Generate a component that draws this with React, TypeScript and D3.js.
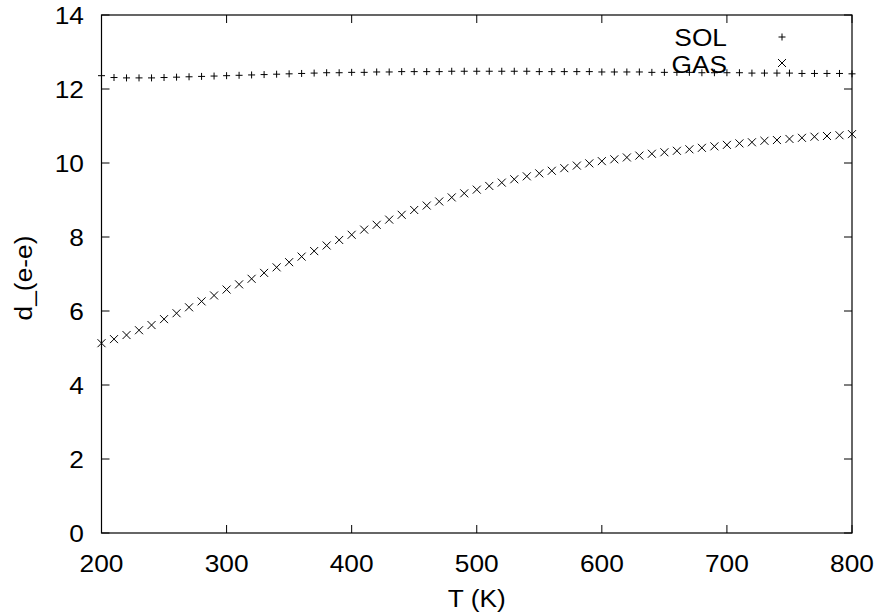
import React from "react";
import * as d3 from "d3";

const temps: number[] = d3.range(200, 801, 10);

const solValues: number[] = [
  12.36, 12.31, 12.30, 12.30, 12.30, 12.31, 12.32, 12.33, 12.34, 12.35,
  12.36, 12.37, 12.38, 12.39, 12.40, 12.41, 12.42, 12.43, 12.44, 12.44,
  12.45, 12.45, 12.46, 12.46, 12.47, 12.47, 12.47, 12.47, 12.48, 12.48,
  12.48, 12.48, 12.48, 12.48, 12.48, 12.47, 12.47, 12.47, 12.47, 12.47,
  12.46, 12.46, 12.46, 12.46, 12.45, 12.45, 12.45, 12.45, 12.44, 12.44,
  12.44, 12.44, 12.43, 12.43, 12.43, 12.43, 12.42, 12.42, 12.42, 12.42,
  12.41,
];

const gasValues: number[] = [
  5.13, 5.24, 5.35, 5.48, 5.62, 5.78, 5.94, 6.10, 6.26, 6.42,
  6.58, 6.72, 6.87, 7.03, 7.18, 7.32, 7.47, 7.62, 7.77, 7.92,
  8.06, 8.20, 8.33, 8.47, 8.60, 8.73, 8.85, 8.96, 9.07, 9.18,
  9.28, 9.38, 9.47, 9.56, 9.64, 9.72, 9.79, 9.86, 9.93, 9.99,
  10.05, 10.10, 10.15, 10.20, 10.25, 10.29, 10.33, 10.37, 10.41, 10.45,
  10.49, 10.53, 10.56, 10.60, 10.62, 10.65, 10.68, 10.71, 10.73, 10.75,
  10.78,
];

const xTicks: number[] = [200, 300, 400, 500, 600, 700, 800];
const yTicks: number[] = [0, 2, 4, 6, 8, 10, 12, 14];
const seriesNames: string[] = ["SOL", "GAS"];

const W = 877;
const H = 616;
const left = 101.5;
const right = 852;
const top = 15;
const bottom = 533;
const FONT = "'Liberation Sans', Arial, Helvetica, sans-serif";
const FS = 23.5;
const SX = 1.12;
const TL = 8;

const plusPath = (s: number) => `M${-s},0H${s}M0,${-s}V${s}`;
const crossPath = (s: number) => `M${-s},${-s}L${s},${s}M${-s},${s}L${s},${-s}`;

function T(props: { x: number; y: number; anchor?: string; rotate?: number; children: React.ReactNode }) {
  const { x, y, anchor = "middle", rotate = 0, children } = props;
  return (
    <text
      transform={`translate(${x},${y}) rotate(${rotate}) scale(${SX},1)`}
      textAnchor={anchor}
      fontFamily={FONT}
      fontSize={FS}
      fill="#000"
    >
      {children}
    </text>
  );
}

export default function App() {
  const x = d3.scaleLinear().domain([200, 800]).range([left, right]);
  const y = d3.scaleLinear().domain([0, 14]).range([bottom, top]);

  const sol = temps.map((t, i) => ({ t, v: solValues[i] }));
  const gas = temps.map((t, i) => ({ t, v: gasValues[i] }));

  return (
    <svg
      width={W}
      height={H}
      style={{ position: "absolute", left: 0, top: 0, background: "#fff" }}
    >
      <rect x={0} y={0} width={W} height={H} fill="#fff" />
      {xTicks.map((t) => (
        <g key={"xt" + t} stroke="#000" strokeWidth={1}>
          <line x1={x(t)} x2={x(t)} y1={bottom} y2={bottom - TL} />
          <line x1={x(t)} x2={x(t)} y1={top} y2={top + TL} />
        </g>
      ))}
      {yTicks.map((t) => (
        <g key={"yt" + t} stroke="#000" strokeWidth={1}>
          <line x1={left} x2={left + TL} y1={y(t)} y2={y(t)} />
          <line x1={right} x2={right - TL} y1={y(t)} y2={y(t)} />
        </g>
      ))}
      <rect
        x={left}
        y={top}
        width={right - left}
        height={bottom - top}
        fill="none"
        stroke="#000"
        strokeWidth={1.2}
      />
      {xTicks.map((t) => (
        <T key={"xl" + t} x={x(t)} y={572}>
          {t}
        </T>
      ))}
      {yTicks.map((t) => (
        <T key={"yl" + t} x={84} y={y(t) + 8.5} anchor="end">
          {t}
        </T>
      ))}
      <T x={(left + right) / 2} y={607}>T (K)</T>
      <T x={32} y={(top + bottom) / 2 + 4} rotate={-90}>d_(e-e)</T>

      <g stroke="#000" strokeWidth={1} fill="none">
        {sol.map((d) => (
          <path key={"s" + d.t} d={plusPath(3.5)} transform={`translate(${x(d.t)},${y(d.v)})`} />
        ))}
        {gas.map((d) => (
          <path key={"g" + d.t} d={crossPath(4)} transform={`translate(${x(d.t)},${y(d.v)})`} />
        ))}
      </g>

      <T x={727} y={46} anchor="end">{seriesNames[0]}</T>
      <T x={727} y={73} anchor="end">{seriesNames[1]}</T>
      <path d={plusPath(3.5)} transform="translate(782,37)" stroke="#000" strokeWidth={1} />
      <path d={crossPath(4)} transform="translate(782,63)" stroke="#000" strokeWidth={1} />
    </svg>
  );
}
